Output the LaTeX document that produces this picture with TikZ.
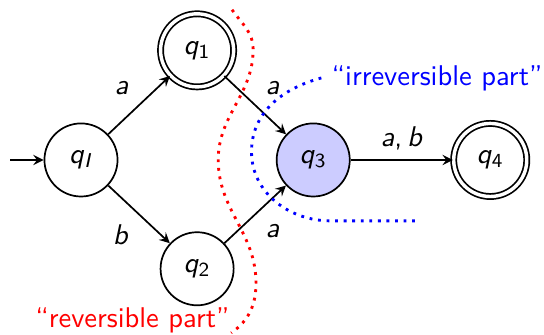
\documentclass[tikz,border=0pt]{standalone}
\usepackage{tikz,amsmath,amssymb}
\usetikzlibrary{calc,arrows}
\renewcommand{\familydefault}{\sfdefault}
\newcommand{\stq}[1]{\textsl{q}\textsubscript{#1}}

\begin{document}
\begin{tikzpicture}[->,>=stealth,semithick,color=black,
    state/.style={circle,draw,minimum size=0.9cm,inner sep=0pt},
    final/.style={state,double,double distance=1.2pt},
    part/.style={-,line width=1pt,dash pattern=on 1pt off 2pt}]
    \useasboundingbox (-0.9975,-2.155) rectangle (5.702,1.970);
			\node[state] (qI) at (0,0){\stq{\textsl{I}}};
			\node[final] (q1) at (1.43,1.35){\stq{1}};
			\node[state] (q2) at (1.43,-1.34){\stq{2}};
			\node[state,fill=blue!20] (q3) at (2.86,0){\stq{3}};
            \node[final] (q4) at (5.04,0){\stq{4}};
            \coordinate (in) at (-0.87,0);
			\draw (in) -- (qI);
			\draw (qI) -- node[auto] {\textsl{a}} (q1);
			\draw (qI) -- node[auto,swap] {\textsl{b}} (q2);
			\draw (q1) -- node[auto] {\textsl{a}} (q3);
			\draw (q2) -- node[auto,swap] {\textsl{a}} (q3);
			\draw (q3) -- node[auto] {\textsl{a},\,\textsl{b}} (q4);
            % the two parts
            \node[blue,anchor=west] (irr) at (2.96,1.01){``irreversible part''};
            \node[red] (rev) at (0.634,-1.97){``reversible part''};
            \draw[part,red] (1.86,1.85) to[out=-55,in=90] (2.12,1.36)
                to[out=-90,in=90] (1.69,0) to[out=-90,in=90] (2.155,-1.515)
                to[out=-90,in=35] (1.85,-2.13);
            \draw[part,blue] (irr.west) to[out=195,in=90] (2.10,0.1)
                to[out=-90,in=180] (3.07,-0.75) -- (4.14,-0.75);
		\end{tikzpicture}
\end{document}
